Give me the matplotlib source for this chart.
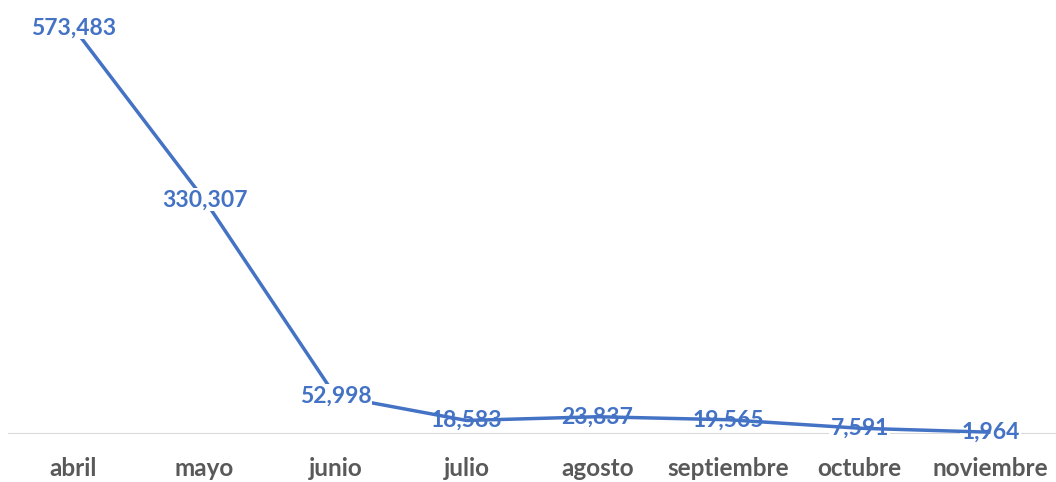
import numpy as np
import matplotlib.pyplot as plt

months = ['abril', 'mayo', 'junio', 'julio', 'agosto', 'septiembre', 'octubre', 'noviembre']
values = [573483, 330307, 52998, 18583, 23837, 19565, 7591, 1964]

blue = '#4472C4'
gray = '#595959'

fig = plt.figure(figsize=(10.56, 4.82), dpi=100)
ax = fig.add_axes([8 / 1056, (482 - 433.6) / 482, 1048 / 1056, (433.6 - 9) / 482])

x = np.arange(len(months))
ax.plot(x, values, color=blue, linewidth=2.5, zorder=2, solid_capstyle='butt')

for i, v in enumerate(values):
    # high labels sit over the line, low ones sit under it (as in the original)
    z = 3 if i < 3 else 1
    ax.text(i, v, f'{v:,}', ha='center', va='center', color=blue,
            fontsize=16.5, fontweight='bold', family='Lato', zorder=z,
            bbox=dict(boxstyle='square,pad=0.05', fc='white', ec='none'))

ax.set_xlim(-0.5, len(months) - 0.5)
ax.set_ylim(0, 600000)
ax.axhline(0, color='#D9D9D9', linewidth=1.5, zorder=0.5)

for s in ax.spines.values():
    s.set_visible(False)
ax.set_yticks([])
ax.set_xticks(x)
ax.set_xticklabels(months, fontsize=17.5, fontweight='bold', color=gray, family='Lato')
ax.tick_params(axis='x', length=0, pad=17)

fig.savefig('out.png', dpi=100)
